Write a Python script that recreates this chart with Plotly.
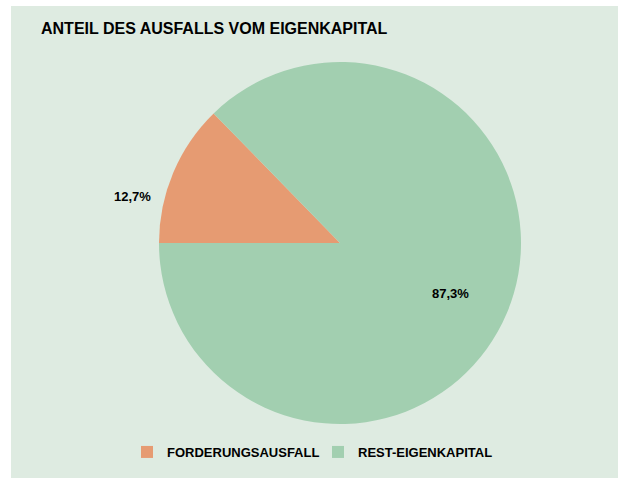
import plotly.graph_objects as go

categories = ["FORDERUNGSAUSFALL", "REST-EIGENKAPITAL"]
values = [12.7, 87.3]
colors = ["#E69B72", "#A2CFB0"]
title_text = "ANTEIL DES AUSFALLS VOM EIGENKAPITAL"

W, H = 618, 478
BG = "#DEEBE1"
FONT = "Liberation Sans, Arial, sans-serif"

cx, cy, r = 340, 243, 181

# label positions (pixels) chosen like the original's "best fit" placement
label_pos = [(132, 196), (450, 293)]

fig = go.Figure()
fig.add_trace(go.Pie(
    labels=categories,
    values=values,
    marker=dict(colors=colors, line=dict(width=0)),
    sort=False,
    direction="clockwise",
    rotation=270,
    textinfo="none",
    domain=dict(x=[(cx - r) / W, (cx + r) / W], y=[1 - (cy + r) / H, 1 - (cy - r) / H]),
    hoverinfo="label+percent",
))

total = sum(values)
annotations = []
for v, (px, py) in zip(values, label_pos):
    pct = 100 * v / total
    annotations.append(dict(
        text="<b>" + f"{pct:.1f}%".replace(".", ",") + "</b>",
        x=px / W, y=1 - py / H, xref="paper", yref="paper",
        xanchor="center", yanchor="middle", showarrow=False,
        font=dict(family=FONT, size=13, color="#000000"),
    ))

fig.update_layout(
    width=W, height=H,
    margin=dict(l=0, r=0, t=0, b=0),
    paper_bgcolor=BG,
    plot_bgcolor=BG,
    separators=",.",
    title=dict(
        text="<b>" + title_text + "</b>",
        x=41 / W, xanchor="left", xref="paper",
        y=1 - 28 / H, yanchor="middle", yref="paper",
        font=dict(family=FONT, size=16, color="#000000"),
    ),
    legend=dict(
        orientation="h",
        x=318 / W, xanchor="center",
        y=1 - 452 / H, yanchor="middle",
        font=dict(family=FONT, size=13, color="#000000", weight="bold"),
        bgcolor="rgba(0,0,0,0)",
        itemwidth=30,
        entrywidth=146,
        entrywidthmode="pixels",
    ),
    showlegend=True,
    annotations=annotations,
    shapes=[
        dict(type="rect", xref="paper", yref="paper", x0=0, x1=11 / W, y0=0, y1=1,
             fillcolor="#FFFFFF", line=dict(width=0), layer="below"),
        dict(type="rect", xref="paper", yref="paper", x0=0, x1=1, y0=1 - 6 / H, y1=1,
             fillcolor="#FFFFFF", line=dict(width=0), layer="below"),
    ],
)

fig.write_html(
    "out.html",
    config={"displayModeBar": False},
    post_script="document.body.style.margin='0';document.body.style.overflow='hidden';",
)
